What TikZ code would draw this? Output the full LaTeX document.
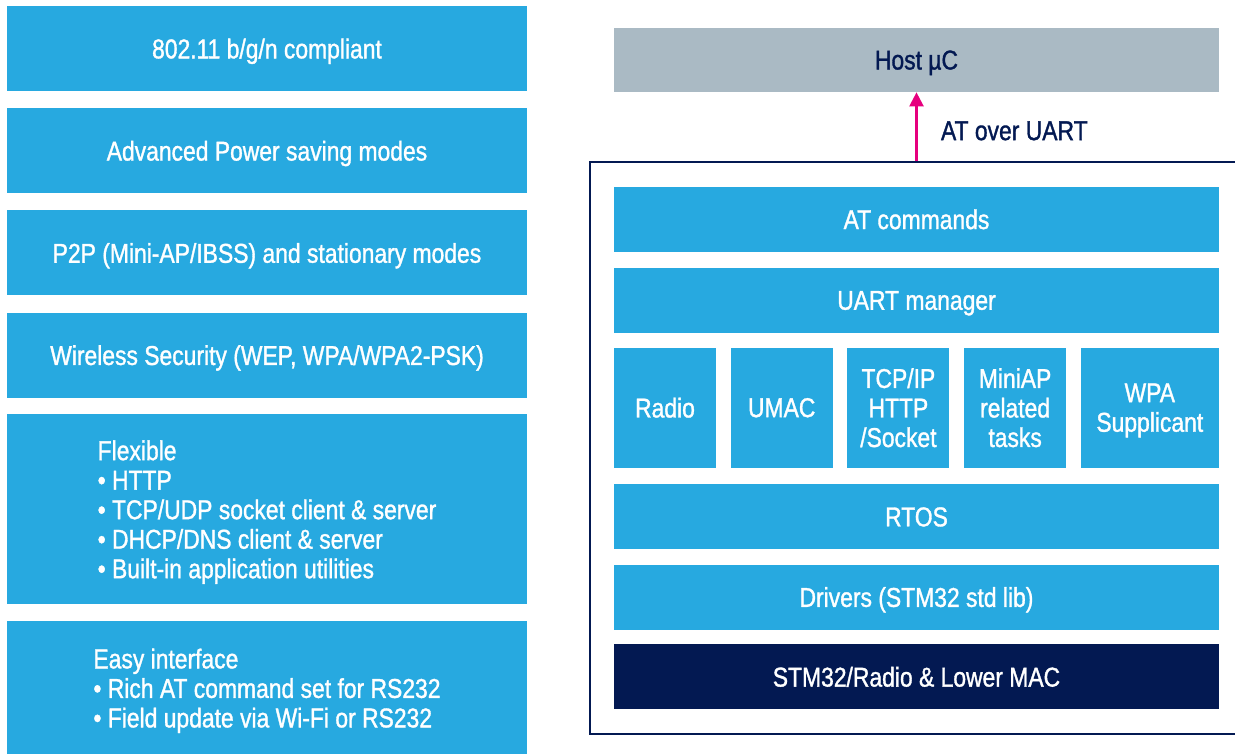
\documentclass[tikz,border=0pt]{standalone}
\usepackage{fontspec}
\setmainfont{Liberation Sans}[FakeStretch=0.84, FakeBold=1.2]
\usepackage{xcolor}
\usepackage{tikz}
\usetikzlibrary{positioning, arrows.meta, fit}
\definecolor{stblue}{RGB}{39,169,224}
\definecolor{stnavy}{RGB}{3,25,82}
\definecolor{stgrey}{RGB}{170,186,196}
\definecolor{stpink}{RGB}{230,0,126}
\tikzset{
    feature/.style={rectangle, fill=stblue, text=white, minimum width=10.4cm, minimum height=1.7cm, align=center, inner sep=0pt, text depth=0pt},
    layer/.style={rectangle, fill=stblue, text=white, minimum width=12.1cm, minimum height=1.3cm, align=center, inner sep=0pt, text depth=0pt},
    module/.style={rectangle, fill=stblue, text=white, minimum width=2.04cm, minimum height=2.4cm, align=center, inner sep=0pt, text depth=0pt},
    arrow/.style={-{Triangle[length=8pt, width=8pt]}, line width=1.3pt, draw=stpink}
}

\begin{document}
\begin{tikzpicture}[
        font=\fontsize{15.5}{16.8}\selectfont,
        % Styles
        host/.style  ={rectangle, fill=stgrey, text=stnavy, minimum width=12.1cm, minimum height=1.28cm, inner sep=0pt, text depth=0pt},
        lowmac/.style={layer, fill=stnavy},
        frame/.style ={rectangle, draw=stnavy, line width=1.1pt, inner sep=0.48cm}
    ]
    \useasboundingbox (0,0) rectangle (24.7,-15.08);

    % --- FEATURE LIST (Left Side) ---

    % Standard
    \node[feature] (Std) at (5.34,-0.97) {802.11 b/g/n compliant};

    % Power saving
    \node[feature, below=0.33cm of Std] (Power) {Advanced Power saving modes};

    % Modes
    \node[feature, below=0.33cm of Power] (Modes) {P2P (Mini-AP/IBSS) and stationary modes};

    % Security
    \node[feature, below=0.33cm of Modes] (Security) {Wireless Security (WEP, WPA/WPA2-PSK)};

    % Flexible (taller box, list inside)
    \node[feature, below=0.32cm of Security, minimum height=3.8cm, align=left] (Flexible) {Flexible\\
        \textbullet\ HTTP\\
        \textbullet\ TCP/UDP socket client \& server\\
        \textbullet\ DHCP/DNS client \& server\\
        \textbullet\ Built-in application utilities};

    % Easy interface
    \node[feature, below=0.31cm of Flexible, minimum height=2.7cm, align=left] (Easy) {Easy interface\\
        \textbullet\ Rich AT command set for RS232\\
        \textbullet\ Field update via Wi-Fi or RS232};


    % --- SOFTWARE STACK (Right Side) ---

    % Host
    \node[host] (Host) at (18.33,-1.2) {Host µC};

    % AT commands
    \node[layer, below=1.88cm of Host] (ATcmd) {AT commands};

    % UART manager
    \node[layer, below=0.31cm of ATcmd] (UARTmgr) {UART manager};

    % Modules row
    \node[module, below=0.28cm of UARTmgr.south west, anchor=north west] (Radio) {Radio};
    \node[module, right=0.28cm of Radio] (UMAC) {UMAC};
    \node[module, right=0.28cm of UMAC] (TCPIP) {TCP/IP\\HTTP\\/Socket};
    \node[module, right=0.28cm of TCPIP] (MiniAP) {MiniAP\\related\\tasks};
    \node[module, right=0.28cm of MiniAP, minimum width=2.76cm] (WPA) {WPA\\Supplicant};

    % RTOS
    \node[layer, below=0.32cm of Radio.south west, anchor=north west] (RTOS) {RTOS};

    % Drivers
    \node[layer, below=0.29cm of RTOS] (Drivers) {Drivers (STM32 std lib)};

    % Lower MAC
    \node[lowmac, below=0.28cm of Drivers] (STM) {STM32/Radio \& Lower MAC};

    % Module frame
    \node[frame, fit=(ATcmd) (Radio) (WPA) (STM)] (Frame) {};

    % Link to host
    \draw[arrow] (Frame.north) -- (Host.south) node[midway, anchor=west, xshift=0.35cm, yshift=-0.08cm, text=stnavy] {AT over UART};

    \end{tikzpicture}
\end{document}
